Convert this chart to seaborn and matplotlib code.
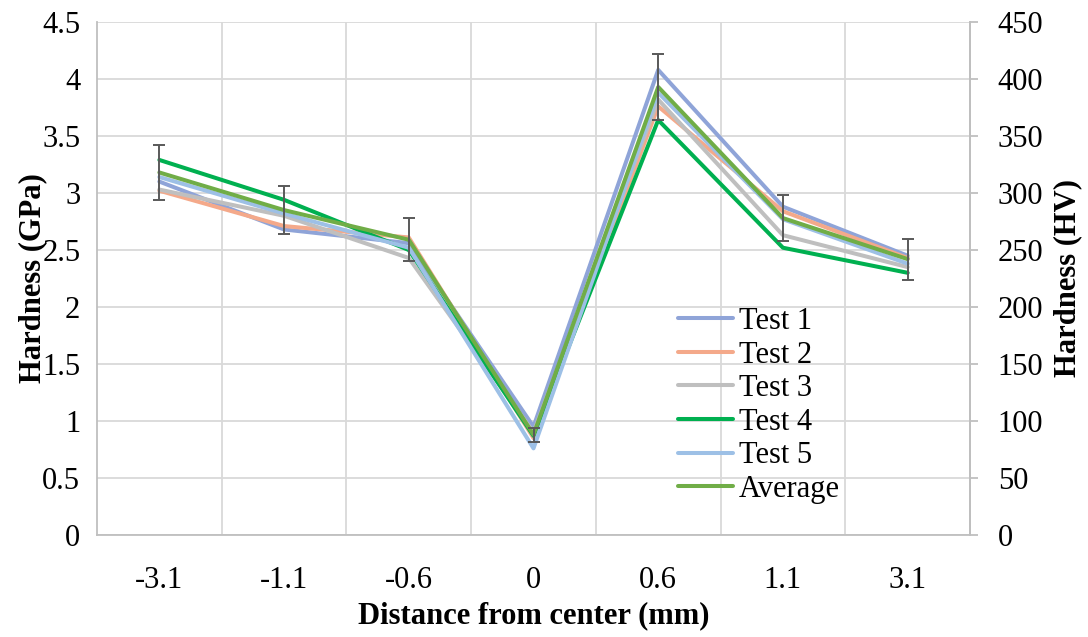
import numpy as np
import pandas as pd
import seaborn as sns
from matplotlib import pyplot as plt

sns.set_style("white")
plt.rcParams['font.family'] = ['Liberation Serif', 'DejaVu Serif']
plt.rcParams['text.color'] = 'black'
plt.rcParams['axes.labelcolor'] = 'black'
plt.rcParams['xtick.color'] = 'black'
plt.rcParams['ytick.color'] = 'black'

# distance categories (mm)
positions = ["-3.1", "-1.1", "-0.6", "0", "0.6", "1.1", "3.1"]

# hardness (GPa)
test1 = [3.10, 2.68, 2.56, 0.95, 4.08, 2.88, 2.45]
test2 = [3.02, 2.71, 2.61, 0.85, 3.76, 2.84, 2.43]
test3 = [3.03, 2.80, 2.43, 0.90, 3.82, 2.63, 2.35]
test4 = [3.29, 2.94, 2.50, 0.87, 3.64, 2.52, 2.30]
test5 = [3.14, 2.82, 2.52, 0.76, 3.88, 2.77, 2.38]
average = [3.18, 2.85, 2.59, 0.88, 3.93, 2.78, 2.42]
avg_err = [0.24, 0.21, 0.19, 0.06, 0.29, 0.20, 0.18]

series_names = ["Test 1", "Test 2", "Test 3", "Test 4", "Test 5", "Average"]
colors = ["#8FA4D8", "#F4A98A", "#BFBFBF", "#00B050", "#9DC0E6", "#70AD47"]

df = pd.DataFrame({
    "pos": list(range(len(positions))) * 6,
    "hardness": test1 + test2 + test3 + test4 + test5 + average,
    "series": np.repeat(series_names, len(positions)),
})

fs = 22

fig = plt.figure(figsize=(10.88, 6.37), dpi=100)
ax = fig.add_axes([97 / 1088, 1 - 535 / 637, 873 / 1088, 513 / 637])

sns.lineplot(data=df, x="pos", y="hardness", hue="series",
             palette=dict(zip(series_names, colors)), linewidth=2.9,
             ax=ax, zorder=3)

# error bars of the average curve
ax.errorbar(range(len(positions)), average, yerr=avg_err, fmt="none",
            ecolor="#595959", elinewidth=1.4, capsize=4.5, capthick=1.4,
            zorder=5)

ax.set_xlim(-0.5, len(positions) - 0.5)
ax.set_ylim(0, 4.5)
ax.set_yticks(np.arange(0, 4.51, 0.5))
ax.set_yticklabels(["0", "0.5", "1", "1.5", "2", "2.5", "3", "3.5", "4", "4.5"])
ax.set_xticks(range(len(positions)))
ax.set_xticklabels(positions)
ax.set_xticks(np.arange(0.5, len(positions) - 1, 1), minor=True)

ax.grid(axis="y", which="major", color="#D9D9D9", linewidth=1.3)
ax.grid(axis="x", which="minor", color="#D9D9D9", linewidth=1.3)
ax.set_axisbelow(True)

for side in ["left", "bottom", "right"]:
    ax.spines[side].set_color("#BFBFBF")
    ax.spines[side].set_linewidth(1.3)
ax.spines["top"].set_visible(False)

ax.tick_params(axis="y", length=0, pad=12, labelsize=fs)
ax.tick_params(axis="x", which="both", length=0, pad=22, labelsize=fs)

ax.set_xlabel("Distance from center (mm)", fontsize=fs, fontweight="bold")
ax.xaxis.set_label_coords(0.5, -0.158)
ax.xaxis.label.set_va("center")
ax.set_ylabel("Hardness (GPa)", fontsize=fs, fontweight="bold")
ax.yaxis.set_label_coords(-0.074, 0.5)
ax.yaxis.label.set_va("center")

# secondary axis in HV
ax2 = ax.twinx()
ax2.set_ylim(0, 450)
ax2.set_yticks(np.arange(0, 451, 50))
ax2.tick_params(axis="y", direction="out", length=6, width=1.3,
                color="#BFBFBF", pad=14, labelsize=fs)
for side in ["left", "bottom", "top"]:
    ax2.spines[side].set_visible(False)
ax2.spines["right"].set_color("#BFBFBF")
ax2.spines["right"].set_linewidth(1.3)
ax2.set_ylabel("Hardness (HV)", fontsize=fs, fontweight="bold")
ax2.yaxis.set_label_coords(1.112, 0.5)
ax2.yaxis.label.set_va("center")

handles, labels = ax.get_legend_handles_labels()
ax.legend(handles, labels, loc="upper left",
          bbox_to_anchor=(678 / 1088, 1 - 307 / 637),
          bbox_transform=fig.transFigure, frameon=False, fontsize=fs,
          handlelength=1.8, handletextpad=0.2, labelspacing=0.15,
          borderpad=0, borderaxespad=0)

plt.savefig("out.png", dpi=100)
